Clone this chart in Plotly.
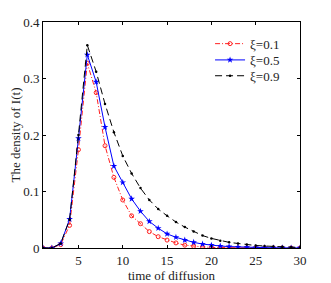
import plotly.graph_objects as go

t = list(range(1, 31))
xi_01 = [0, 0, 0.006, 0.040, 0.174, 0.327, 0.275, 0.181, 0.125, 0.085,
         0.057, 0.043, 0.029, 0.020, 0.014, 0.009, 0.005, 0.003, 0.002, 0.001,
         0.0006, 0.0004, 0.0003, 0.0002, 0.0001, 0.0001, 0, 0, 0, 0]
xi_05 = [0, 0, 0.008, 0.051, 0.194, 0.342, 0.294, 0.214, 0.145, 0.116,
         0.087, 0.065, 0.047, 0.035, 0.025, 0.019, 0.014, 0.010, 0.007, 0.005,
         0.0035, 0.0025, 0.0018, 0.0013, 0.0009, 0.0006, 0.0004, 0.0003, 0.0002, 0.0001]
xi_09 = [0, 0, 0.008, 0.050, 0.200, 0.359, 0.312, 0.255, 0.205, 0.163,
         0.132, 0.106, 0.085, 0.069, 0.057, 0.046, 0.037, 0.029, 0.022, 0.017,
         0.013, 0.010, 0.008, 0.006, 0.0045, 0.0035, 0.0025, 0.002, 0.0015, 0.001]
names = ["ξ=0.1", "ξ=0.5", "ξ=0.9"]
x_ticks = [5, 10, 15, 20, 25, 30]
y_ticks = [0, 0.1, 0.2, 0.3, 0.4]
y_tick_text = ["0", "0.1", "0.2", "0.3", "0.4"]

FONT = "Liberation Serif, Times New Roman, serif"
TXT = "#222222"

fig = go.Figure()
fig.add_trace(go.Scatter(
    x=t, y=xi_01, name=names[0], mode="lines+markers", legend="legend",
    line=dict(color="#ff2020", width=1, dash="5px,2px,1px,2px"),
    marker=dict(symbol="circle-open", size=4, color="#ff2020", line=dict(width=1))))
fig.add_trace(go.Scatter(
    x=t, y=xi_05, name=names[1], mode="lines+markers", legend="legend2",
    line=dict(color="#0000ff", width=1),
    marker=dict(symbol="star", size=5, color="#0000ff", line=dict(width=0))))
fig.add_trace(go.Scatter(
    x=t, y=xi_09, name=names[2], mode="lines+markers", legend="legend3",
    line=dict(color="#000000", width=1, dash="7px,4px"),
    marker=dict(symbol="circle", size=2.5, color="#000000")))

axis_common = dict(showline=True, linecolor="black", linewidth=1, mirror="ticks",
                   ticks="inside", ticklen=3, tickcolor="black", showgrid=False,
                   zeroline=False, automargin=False,
                   tickfont=dict(family=FONT, size=13, color=TXT))
fig.update_xaxes(range=[1, 30], tickvals=x_ticks,
                 title=dict(text="time of diffusion", font=dict(family=FONT, size=13, color=TXT), standoff=4),
                 **axis_common)
fig.update_yaxes(range=[0, 0.4], tickvals=y_ticks, ticktext=y_tick_text,
                 title=dict(text="The density of I(t)", font=dict(family=FONT, size=13, color=TXT), standoff=6),
                 **axis_common)

leg_common = dict(xanchor="left", yanchor="middle", bgcolor="rgba(0,0,0,0)",
                  font=dict(family=FONT, size=13, color=TXT), itemwidth=30)
# page body has an 8px default margin; figure size/margins compensate for it
fig.update_layout(
    width=323, height=275,
    margin=dict(l=35, r=31, t=14, b=35),
    paper_bgcolor="white", plot_bgcolor="white",
    showlegend=True,
    legend=dict(x=0.65, y=0.904, **leg_common),
    legend2=dict(x=0.65, y=0.832, **leg_common),
    legend3=dict(x=0.65, y=0.762, **leg_common),
)
fig.write_html("out.html")
